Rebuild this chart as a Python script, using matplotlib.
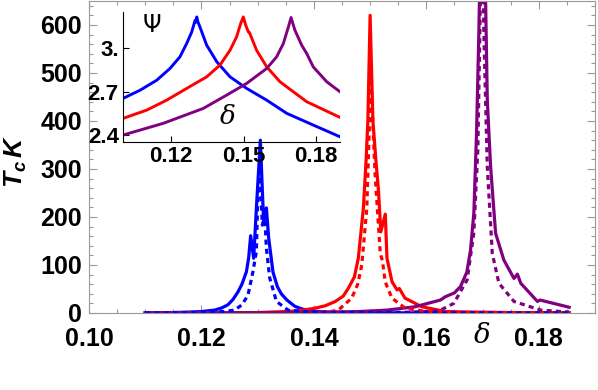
import numpy as np
import matplotlib.pyplot as plt
from matplotlib.ticker import MultipleLocator, FixedLocator

plt.rcParams['font.family'] = ['Liberation Sans', 'DejaVu Sans']
plt.rcParams['mathtext.fontset'] = 'custom'
plt.rcParams['mathtext.it'] = 'Liberation Sans:italic:bold'
plt.rcParams['mathtext.rm'] = 'Liberation Sans:bold'

# ---- main panel: Tc vs delta (solid / dotted) ----
blue_x = [0.110, 0.115, 0.118, 0.120, 0.1223, 0.1235, 0.1247, 0.1256, 0.1265, 0.1272,
          0.1280, 0.1284, 0.12875, 0.12929, 0.12977, 0.13048, 0.13084, 0.13107, 0.13155,
          0.13196, 0.13273, 0.1335, 0.1342, 0.1352, 0.1366, 0.1380, 0.1396, 0.142,
          0.145, 0.150, 0.160, 0.1854]
blue_y = [0.5, 1, 2, 3, 6, 10, 17, 28, 44, 60,
          86, 115, 161, 114, 218, 360, 253, 190, 219,
          156, 85, 55, 40, 27, 14, 8, 4, 2,
          1, 0.5, 0.2, 0.1]
blue_dot_x = [0.110, 0.120, 0.124, 0.12589, 0.1272, 0.12827, 0.12916, 0.12977, 0.13005,
              0.13036, 0.13084, 0.13125, 0.13155, 0.13214, 0.13334, 0.13541, 0.138,
              0.142, 0.1854]
blue_dot_y = [0, 1, 3, 6, 17, 37, 86, 128, 253,
              295, 183, 205, 135, 73, 24, 6, 3,
              1, 0]

red_x = [0.110, 0.125, 0.130, 0.135, 0.1375, 0.1402, 0.1420, 0.1438, 0.1452, 0.1461,
         0.1472, 0.1479, 0.1488, 0.1493, 0.1496, 0.1500, 0.1505, 0.1510, 0.1515, 0.1519,
         0.1527, 0.1530, 0.1539, 0.1548, 0.1552, 0.1562, 0.1592, 0.1634, 0.168, 0.175,
         0.1854]
red_y = [0, 0.5, 1, 3, 5, 10, 15, 24, 35, 51,
         75, 114, 218, 322, 400, 620, 400, 322, 253, 169,
         206, 114, 65, 48, 51, 31, 13, 3, 2, 1,
         0.5]
red_dot_x = [0.110, 0.140, 0.1430, 0.14434, 0.14673, 0.1478, 0.14852, 0.14941, 0.15013,
             0.15089, 0.15148, 0.1518, 0.1522, 0.15268, 0.15388, 0.15625, 0.160, 0.165,
             0.1854]
red_dot_y = [0, 1, 3, 6, 31, 60, 100, 218, 490,
             288, 183, 125, 108, 65, 31, 10, 3, 1,
             0]

purple_x = [0.110, 0.130, 0.140, 0.148, 0.153, 0.158, 0.1625, 0.1634, 0.1650, 0.16607,
            0.1672, 0.16786, 0.16845, 0.16893, 0.16934, 0.1700, 0.17054, 0.17084, 0.17143,
            0.17232, 0.1738, 0.17559, 0.1762, 0.17679, 0.17977, 0.18023, 0.1854]
purple_y = [0, 0.5, 1.5, 3, 6, 13, 27, 34, 42, 55,
            85, 131, 208, 374, 583, 1000, 652, 444, 305,
            166, 110, 72, 81, 62, 24, 27, 12]
purple_dot_x = [0.110, 0.155, 0.160, 0.1625, 0.16488, 0.16726, 0.16845, 0.16916, 0.16952,
                0.1699, 0.17023, 0.17084, 0.17173, 0.17291, 0.17559, 0.18036, 0.1854]
purple_dot_y = [0, 1, 3, 6, 20, 69, 167, 340, 583,
                900, 583, 305, 124, 62, 24, 6, 2]

# ---- inset: Psi vs delta ----
psi_blue_x = [0.1000, 0.1071, 0.1140, 0.1195, 0.1236, 0.1264, 0.1285, 0.1299, 0.1303,
              0.1306, 0.1310, 0.1319, 0.1347, 0.1389, 0.1444, 0.1513, 0.1596, 0.1679,
              0.1789, 0.1900]
psi_blue_y = [2.653, 2.710, 2.779, 2.860, 2.940, 3.032, 3.112, 3.193, 3.180,
              3.216, 3.185, 3.147, 3.021, 2.906, 2.802, 2.722, 2.641, 2.550,
              2.469, 2.388]
psi_red_x = [0.1000, 0.1098, 0.1181, 0.1264, 0.1347, 0.1402, 0.1444, 0.1471, 0.1488,
             0.1499, 0.1509, 0.1520, 0.1524, 0.1530, 0.1554, 0.1596, 0.1651, 0.1762, 0.1900]
psi_red_y = [2.515, 2.572, 2.641, 2.722, 2.802, 2.883, 2.986, 3.078, 3.170,
             3.216, 3.159, 3.112, 3.110, 3.085, 2.986, 2.871, 2.768, 2.630, 2.522]
psi_purple_x = [0.1000, 0.1167, 0.1333, 0.1430, 0.1513, 0.1596, 0.1637, 0.1665, 0.1686,
                0.1697, 0.1713, 0.1741, 0.1762, 0.1789, 0.1845, 0.1900]
psi_purple_y = [2.400, 2.481, 2.584, 2.676, 2.757, 2.860, 2.940, 3.032, 3.147,
                3.212, 3.124, 3.021, 2.963, 2.871, 2.768, 2.699]

BLUE = '#0000ff'
RED = '#ff0000'
PURPLE = '#800080'
GRAY = '#999999'
dots = (0, (1.6, 1.3))

fig = plt.figure(figsize=(5.98, 3.90), dpi=100)
ax = fig.add_axes([89 / 598, 1 - 313 / 390, 506 / 598, 312 / 390])

lw = 2.3
ax.plot(blue_x, blue_y, color=BLUE, lw=lw)
ax.plot(red_x, red_y, color=RED, lw=lw)
ax.plot(purple_x, purple_y, color=PURPLE, lw=lw)
ax.plot(red_dot_x, red_dot_y, color=RED, lw=lw, ls=dots)
ax.plot(purple_dot_x, purple_dot_y, color=PURPLE, lw=lw, ls=dots)
ax.plot(blue_dot_x, blue_dot_y, color=BLUE, lw=lw, ls=dots)

ax.set_xlim(0.10, 0.19)
ax.set_ylim(0, 650)
ax.xaxis.set_major_locator(FixedLocator([0.10, 0.12, 0.14, 0.16, 0.18]))
ax.xaxis.set_minor_locator(MultipleLocator(0.005))
ax.yaxis.set_major_locator(MultipleLocator(100))
ax.yaxis.set_minor_locator(MultipleLocator(20))
ax.set_xticklabels(['0.10', '0.12', '0.14', '0.16', '0.18'])
for s in ax.spines.values():
    s.set_color(GRAY)
ax.tick_params(which='both', direction='in', top=True, right=True, color=GRAY,
               labelsize=18, width=0.8)
ax.tick_params(which='major', length=6)
ax.tick_params(which='minor', length=3)
ax.tick_params(axis='x', pad=10)
ax.tick_params(axis='y', pad=5)
for lab in ax.get_xticklabels() + ax.get_yticklabels():
    lab.set_fontweight('bold')

fig.text(16 / 598, 1 - 161 / 390, r'$T_c\,K$', rotation=90, fontsize=19,
         ha='center', va='center')
fig.text(482 / 598, 1 - 336 / 390, r'$\delta$', fontsize=20, ha='center', va='center',
         math_fontfamily='dejavuserif')

# inset
ins = fig.add_axes([123 / 598, 1 - 142 / 390, 217 / 598, 130 / 390])
ins.patch.set_alpha(0)
ins.plot(psi_blue_x, psi_blue_y, color=BLUE, lw=2.1)
ins.plot(psi_red_x, psi_red_y, color=RED, lw=2.1)
ins.plot(psi_purple_x, psi_purple_y, color=PURPLE, lw=2.1)
ins.set_xlim(0.10, 0.19)
ins.set_ylim(2.352, 3.25)
ins.spines['top'].set_visible(False)
ins.spines['right'].set_visible(False)
ins.xaxis.set_major_locator(FixedLocator([0.12, 0.15, 0.18]))
ins.yaxis.set_major_locator(FixedLocator([2.4, 2.7, 3.0]))
ins.set_xticklabels(['0.12', '0.15', '0.18'])
ins.set_yticklabels(['2.4', '2.7', '3.'])
ins.tick_params(direction='in', length=4, width=0.8, labelsize=16, pad=3)
for lab in ins.get_xticklabels() + ins.get_yticklabels():
    lab.set_fontweight('bold')
ins.text(152 / 598, 1 - 25 / 390, 'Ψ', transform=fig.transFigure, fontsize=17,
         ha='center', va='center', family='DejaVu Sans')
ins.text(227 / 598, 1 - 117 / 390, r'$\delta$', transform=fig.transFigure, fontsize=19,
         ha='center', va='center', math_fontfamily='dejavuserif')

fig.savefig('out.png', dpi=100)
